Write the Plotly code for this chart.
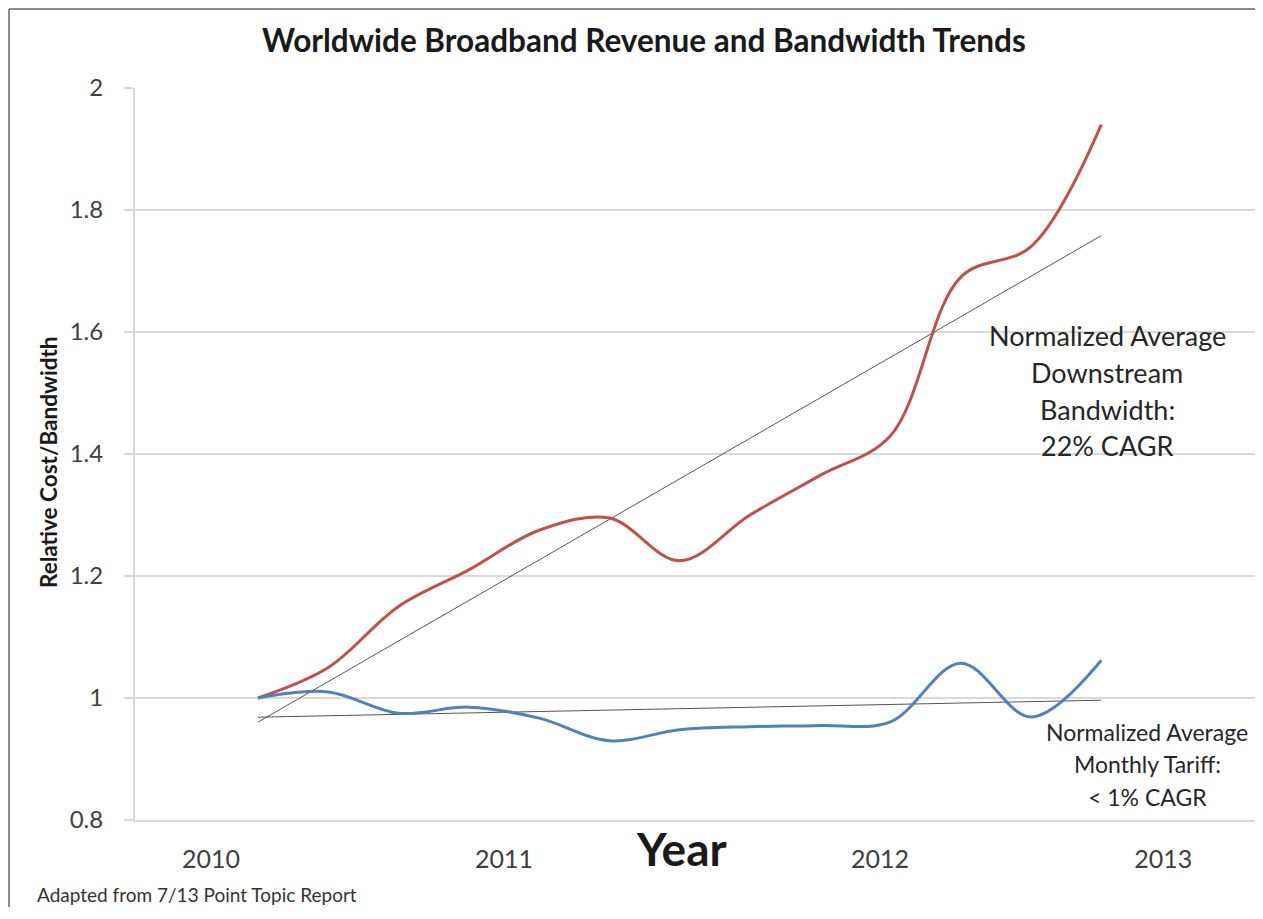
import numpy as np
import plotly.graph_objects as go

# ---- data ----
quarter_index = [0, 1, 2, 3, 4, 5, 6, 7, 8, 9, 10, 11, 12]
bandwidth = [1.00, 1.05, 1.15, 1.21, 1.275, 1.295, 1.225, 1.30, 1.365, 1.43, 1.69, 1.74, 1.94]
tariff = [1.00, 1.01, 0.975, 0.985, 0.967, 0.93, 0.948, 0.953, 0.955, 0.961, 1.057, 0.969, 1.062]
year_labels = ["2010", "2011", "2012", "2013"]
year_label_pos = [-0.67, 3.50, 8.85, 12.88]
y_ticks = [0.8, 1.0, 1.2, 1.4, 1.6, 1.8, 2.0]
y_tick_text = ["0.8", "1", "1.2", "1.4", "1.6", "1.8", "2"]

RED = "#C0504D"
BLUE = "#4F81BD"
GRID = "#d9d9d9"
FONT = "Lato"

x = np.array(quarter_index, dtype=float)
ends = np.array([x[0], x[-1]])
bw_fit = np.polyval(np.polyfit(x, bandwidth, 1), ends)
tf_fit = np.polyval(np.polyfit(x, tariff, 1), ends)

fig = go.Figure()
fig.add_trace(go.Scatter(x=ends, y=bw_fit, mode="lines",
                         line=dict(color="#555555", width=1), hoverinfo="skip"))
fig.add_trace(go.Scatter(x=ends, y=tf_fit, mode="lines",
                         line=dict(color="#555555", width=1), hoverinfo="skip"))
fig.add_trace(go.Scatter(x=quarter_index, y=bandwidth, mode="lines",
                         line=dict(color=RED, width=3, shape="spline", smoothing=1)))
fig.add_trace(go.Scatter(x=quarter_index, y=tariff, mode="lines",
                         line=dict(color=BLUE, width=3, shape="spline", smoothing=1)))

# page has an 8px body margin; figure sized so it fits the window without scrolling
W, H = 1251, 899
L, T = 127, 80
PW, PH = 1123, 732
R = W - L - PW
B = H - T - PH
OFF = 8


def px(xs):  # screen x -> paper x
    return (xs - OFF - L) / PW


def py(ys):  # screen y -> paper y
    return (T + PH - (ys - OFF)) / PH


def note(text, xs, ys, size, color="#262626", **kw):
    d = dict(text=text, x=px(xs), y=py(ys), xref="paper", yref="paper",
             xanchor="center", yanchor="middle", showarrow=False,
             font=dict(family=FONT, size=size, color=color))
    d.update(kw)
    return d


annotations = [
    note("<b>Worldwide Broadband Revenue and Bandwidth Trends</b>", 644, 40, 31.5, "#1a1a1a"),
    note("<b>Relative Cost/Bandwidth</b>", 48, 462, 22.5, "#1a1a1a", textangle=-90),
    note("<b>Year</b>", 681, 848, 46, "#1a1a1a"),
    note("Adapted from 7/13 Point Topic Report", 35, 894, 19, "#333333", xanchor="left"),
]
for t, yy in zip(["Normalized Average", "Downstream", "Bandwidth:", "22% CAGR"],
                 [335, 372, 409, 445]):
    annotations.append(note(t, 1107, yy, 27))
for t, yy in zip(["Normalized Average", "Monthly Tariff:", "< 1% CAGR"],
                 [732, 764, 797]):
    annotations.append(note(t, 1147, yy, 23))

shapes = [
    # white box behind the bandwidth label, hiding gridlines
    dict(type="rect", xref="paper", yref="paper", x0=px(978), x1=px(1235),
         y0=py(470), y1=py(312), fillcolor="white", line=dict(width=0), layer="between"),
    # chart frame (left and top edges)
    dict(type="line", xref="paper", yref="paper", x0=px(9), x1=px(9), y0=py(930), y1=py(9),
         line=dict(color="#8c8c8c", width=2)),
    dict(type="line", xref="paper", yref="paper", x0=px(9), x1=px(1270), y0=py(9), y1=py(9),
         line=dict(color="#8c8c8c", width=2)),
]

fig.update_layout(
    width=W, height=H,
    margin=dict(l=L, r=R, t=T, b=B),
    paper_bgcolor="white", plot_bgcolor="white",
    showlegend=False,
    annotations=annotations,
    shapes=shapes,
    font=dict(family=FONT),
)
fig.update_xaxes(range=[-1.75, 14.23], tickvals=year_label_pos, ticktext=year_labels,
                 showgrid=False, zeroline=False, showline=True, linecolor=GRID, linewidth=2,
                 ticks="", ticklabelstandoff=16,
                 tickfont=dict(family=FONT, size=25, color="#404040"))
fig.update_yaxes(range=[0.8, 2.0], tickvals=y_ticks, ticktext=y_tick_text,
                 showgrid=True, gridcolor=GRID, gridwidth=2, zeroline=False,
                 showline=True, linecolor=GRID, linewidth=2,
                 ticks="outside", ticklen=9, tickcolor=GRID, tickwidth=2,
                 ticklabelstandoff=16,
                 tickfont=dict(family=FONT, size=24, color="#404040"))

fig.write_html("out.html")
